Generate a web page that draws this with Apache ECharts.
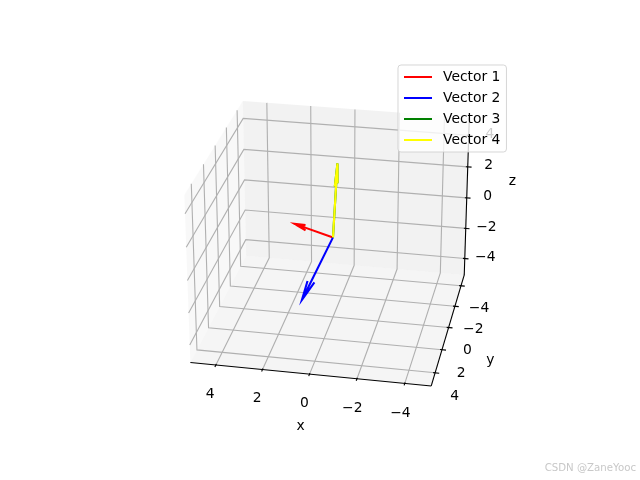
<!DOCTYPE html>
<html><head><meta charset="utf-8">
<style>html,body{margin:0;padding:0;background:#fff}#c{width:640px;height:480px}</style>
<script src="https://cdn.jsdelivr.net/npm/echarts@6/dist/echarts.min.js"></script>
</head><body><div id="c"></div>
<script>
const names = ['Vector 1','Vector 2','Vector 3','Vector 4'];
const colors = ['#ff0000','#0000ff','#008000','#ffff00'];
const vector1 = [1.9,-1,0];
const vector2 = [1,1.8,-2.9];
const vector3 = [0,-1,4];
const vector4 = [0,-1,4];
const origin = [0,0,0];
const ticks = [-4,-2,0,2,4];
const tickLabels = ['\u22124','\u22122','0','2','4'];

const ELEV=26, AZIM=101, L=5.1, S=0.1167, SZ=0.0885, DIST=10;
const FONT='"DejaVu Sans"', FS=13.89;
const el=ELEV*Math.PI/180, az=AZIM*Math.PI/180;
const w=[Math.cos(el)*Math.cos(az),Math.cos(el)*Math.sin(az),Math.sin(el)];
const u=[-Math.sin(az),Math.cos(az),0];
const v=[-Math.sin(el)*Math.cos(az),-Math.sin(el)*Math.sin(az),Math.cos(el)];
const dot=(a,b)=>a[0]*b[0]+a[1]*b[1]+a[2]*b[2];
function proj(p){
  const q=[p[0]*S,p[1]*S,p[2]*SZ];
  const d=DIST-dot(w,q);
  const X=dot(u,q)/d, Y=dot(v,q)/d;
  return [143.2+(X+0.095)/0.185*369.6, 427.2-(Y+0.095)/0.185*369.6];
}
const pl=a=>a.map(proj);

function arrow(o,t){
  const tip=[o[0]+t[0],o[1]+t[1],o[2]+t[2]];
  const n=Math.hypot(t[0],t[1]);
  const k=n?[t[1]/n,-t[0]/n,0]:[0,1,0];
  const rot=(a)=>{
    const c=Math.cos(a),s=Math.sin(a);
    const cr=[k[1]*t[2]-k[2]*t[1],k[2]*t[0]-k[0]*t[2],k[0]*t[1]-k[1]*t[0]];
    const kd=dot(k,t);
    return [0,1,2].map(i=>t[i]*c+cr[i]*s+k[i]*kd*(1-c));
  };
  const b=a=>{const r=rot(a);return [tip[0]-0.3*r[0],tip[1]-0.3*r[1],tip[2]-0.3*r[2]];};
  return pl([o,tip,b(15*Math.PI/180),tip,b(-15*Math.PI/180)]);
}

const panes=[
 {c:'rgba(242,242,242,0.5)',p:[[L,-L,-L],[L,L,-L],[L,L,L],[L,-L,L]]},
 {c:'rgba(230,230,230,0.5)',p:[[-L,-L,-L],[L,-L,-L],[L,-L,L],[-L,-L,L]]},
 {c:'rgba(236,236,236,0.5)',p:[[-L,-L,-L],[L,-L,-L],[L,L,-L],[-L,L,-L]]}
];
const gridLines=[];
ticks.forEach(t=>{
  gridLines.push([[t,L,-L],[t,-L,-L],[t,-L,L]]);
  gridLines.push([[-L,t,-L],[L,t,-L],[L,t,L]]);
  gridLines.push([[L,L,t],[L,-L,t],[-L,-L,t]]);
});
const axisLines=[[[L,L,-L],[-L,L,-L]],[[-L,L,-L],[-L,-L,-L]],[[-L,-L,-L],[-L,-L,L]]];
const tO=0.17,tI=0.085;
const tickLines=[];
ticks.forEach(t=>{
  tickLines.push([[t,L-tI,-L],[t,L+tO,-L]]);
  tickLines.push([[-L+tI,t,-L],[-L-tO,t,-L]]);
  tickLines.push([[-L+tI,-L,t],[-L-tO,-L,t]]);
});
const texts=[];
ticks.forEach((t,i)=>{
  texts.push({s:tickLabels[i],p:[t,L+1.05,-L-1.05]});
  texts.push({s:tickLabels[i],p:[-L-0.85,t,-L-1.4]});
  texts.push({s:tickLabels[i],p:[-L-0.9,-L-0.3,t]});
});
texts.push({s:'x',p:[0,L+1.85,-L-1.85]});
texts.push({s:'y',p:[-L-1.87,0,-L-1.9]});
texts.push({s:'z',p:[-L-1.8,-L-2.2,0]});

function polySeries(list,style,z,type){
  const pts=list.map(pl);
  return {type:'custom',coordinateSystem:'cartesian2d',silent:true,z,clip:false,animation:false,
    data:pts.map((_,i)=>[i,0]),encode:{x:0,y:1},
    renderItem(params,api){
      const st=typeof style==='function'?style(params.dataIndex):style;
      return {type,shape:{points:pts[params.dataIndex].map(p=>api.coord(p))},style:Object.assign({},st),silent:true};
    }};
}
const textPts=texts.map(t=>proj(t.p));
const series=[
 polySeries(panes.map(p=>p.p),i=>({fill:panes[i].c,stroke:null}),1,'polygon'),
 polySeries(gridLines,{stroke:'#b0b0b0',lineWidth:1.11,fill:null},2,'polyline'),
 polySeries(axisLines,{stroke:'#000',lineWidth:1.11,fill:null},3,'polyline'),
 polySeries(tickLines,{stroke:'#000',lineWidth:1.11,fill:null},3,'polyline'),
 {type:'custom',coordinateSystem:'cartesian2d',silent:true,z:3,clip:false,animation:false,
  data:texts.map((_,i)=>[i,0]),encode:{x:0,y:1},
  renderItem(params,api){
    const c=api.coord(textPts[params.dataIndex]);
    return {type:'text',silent:true,style:{x:c[0],y:c[1],text:texts[params.dataIndex].s,fill:'#000',
      fontFamily:FONT,fontSize:FS,align:'center',verticalAlign:'middle'}};
  }}
];
[vector1,vector2,vector3,vector4].forEach((t,i)=>{
  series.push({type:'line',name:names[i],data:arrow(origin,t),symbol:'none',showSymbol:false,silent:true,
    z:5+i,animation:false,clip:false,itemStyle:{color:colors[i]},
    lineStyle:{color:colors[i],width:2.08,cap:'butt',join:'miter'}});
});
const chart=echarts.init(document.getElementById('c'),null,{renderer:'canvas'});
chart.setOption({
  animation:false,backgroundColor:'#fff',
  grid:{left:0,right:0,top:0,bottom:0,containLabel:false},
  xAxis:{type:'value',min:0,max:640,show:false},
  yAxis:{type:'value',min:0,max:480,inverse:true,show:false},
  title:{text:'CSDN @ZaneYooc',right:4,top:463,padding:0,textStyle:{color:'#c8c8c8',fontSize:10.2,fontWeight:'normal',fontFamily:FONT}},
  legend:{data:names,orient:'vertical',left:398,top:65,z:10,selectedMode:false,
    icon:'rect',itemWidth:28,itemHeight:2,itemGap:7,padding:[5,6,5,6],
    backgroundColor:'rgba(255,255,255,0.8)',borderColor:'rgba(204,204,204,0.8)',borderWidth:1,borderRadius:3,
    textStyle:{fontFamily:FONT,fontSize:FS,lineHeight:14,color:'#000',padding:[0,0,0,6]}},
  series
});
</script></body></html>
